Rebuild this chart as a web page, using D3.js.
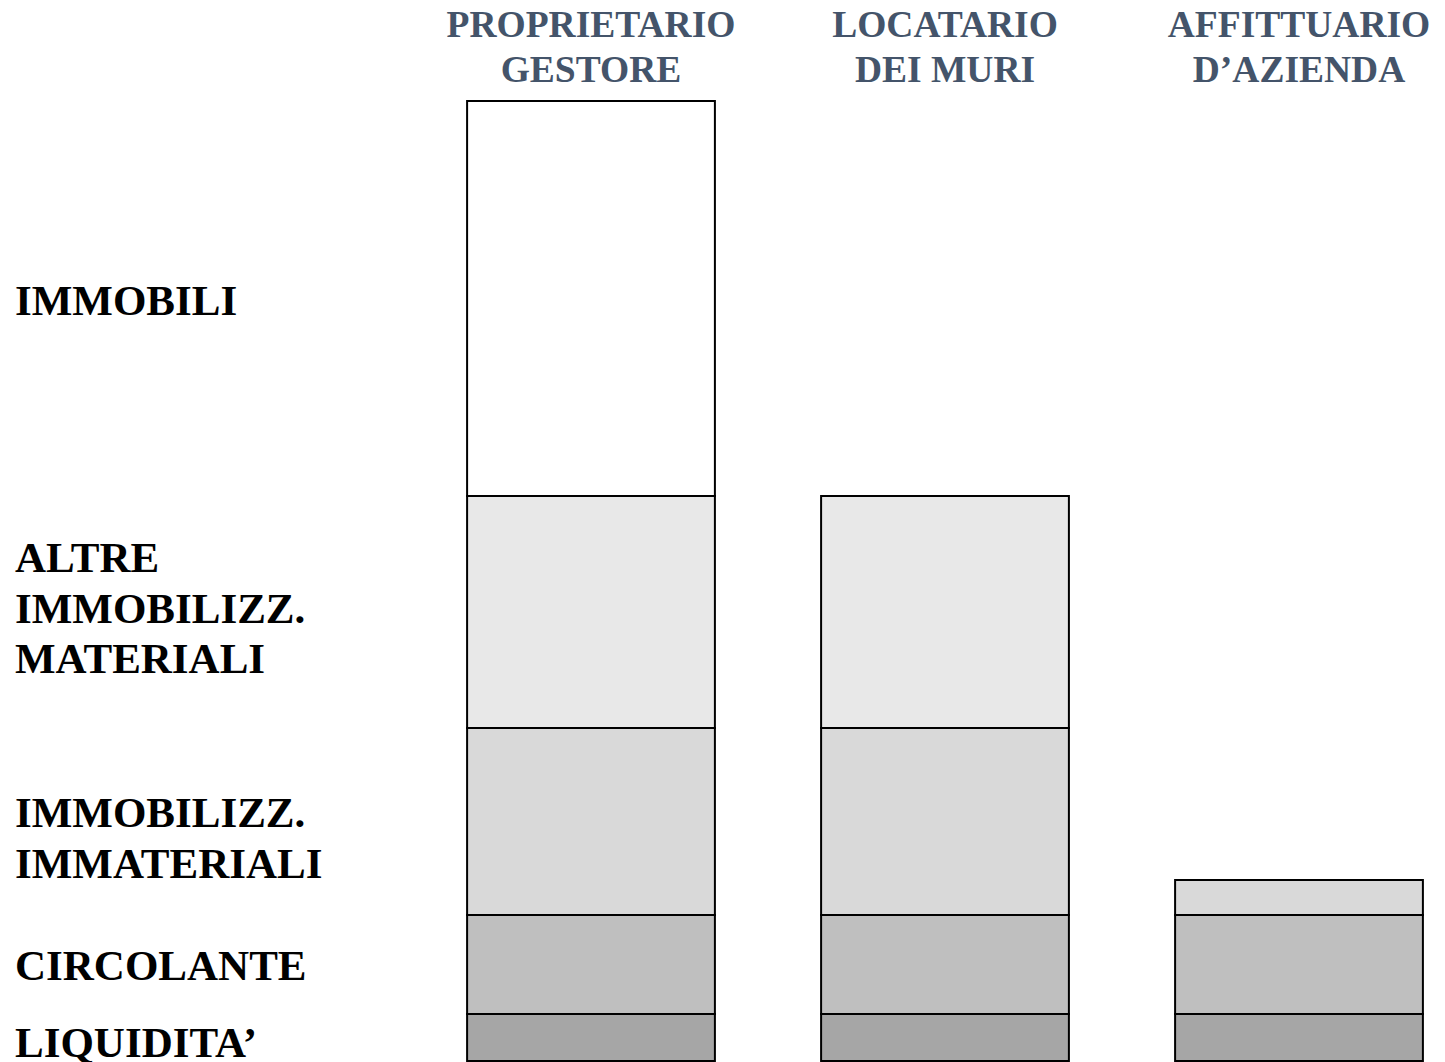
<!DOCTYPE html>
<head>
  <meta charset="utf-8">
  <title>Composizione attivo per tipologia</title>
<style>
html, body{
  width: 100%;
  height: 100%;
  margin: 0;
  padding: 0;
  background: #fff;
}

.header {
  fill: #44546a;
  font-family: 'Liberation Serif', 'Times New Roman', serif;
  font-weight: bold;
  font-size: 37.5px;
  text-anchor: middle;
}

.rowlabel {
  fill: #000;
  font-family: 'Liberation Serif', 'Times New Roman', serif;
  font-weight: bold;
  font-size: 43px;
}

.seg {
  stroke: #000;
  stroke-width: 2px;
}
</style>
</head>
<body>
<svg width="1445" height="1062"></svg>
<script src="https://d3js.org/d3.v7.min.js"></script>
<script>
var svg = d3.select("svg"),
    width = +svg.attr("width"),
    height = +svg.attr("height");

// columns (header text, split on lines)
var columns = ["PROPRIETARIO GESTORE", "LOCATARIO DEI MURI", "AFFITTUARIO D\u2019AZIENDA"];
var headerLines = [["PROPRIETARIO", "GESTORE"], ["LOCATARIO", "DEI MURI"], ["AFFITTUARIO", "D\u2019AZIENDA"]];

// stack layers, bottom to top
var layers = ["liquidita", "circolante", "immateriali", "materiali", "immobili"];
var layerLabels = [["LIQUIDITA\u2019"], ["CIRCOLANTE"], ["IMMOBILIZZ.", "IMMATERIALI"], ["ALTRE", "IMMOBILIZZ.", "MATERIALI"], ["IMMOBILI"]];

// values per column (relative size of each block)
var liquidita   = [4.7, 4.7, 4.7];
var circolante  = [9.9, 9.9, 9.9];
var immateriali = [18.7, 18.7, 3.5];
var materiali   = [23.2, 23.2, 0];
var immobili    = [39.5, 0, 0];

var colors = ["#a6a6a6", "#bfbfbf", "#d9d9d9", "#e8e8e8", "#ffffff"];
var labelBaselines = [1057, 980, 827, 572, 315]; // first-line baseline of each row label
var lineH = 50.5;

var table = columns.map(function(c, i) {
  return {col: c, liquidita: liquidita[i], circolante: circolante[i],
          immateriali: immateriali[i], materiali: materiali[i], immobili: immobili[i]};
});

var stack = d3.stack().keys(layers);
var series = stack(table);

var x = d3.scaleBand()
    .domain(columns)
    .range([414, 1476])
    .paddingInner(0.3)
    .paddingOuter(0.15);

var y = d3.scaleLinear()
    .domain([0, 96])
    .range([1061, 101]);

var color = d3.scaleOrdinal().domain(layers).range(colors);

// bars
svg.selectAll(".layer")
  .data(series)
  .enter().append("g")
    .attr("class", "layer")
    .style("fill", function(d) { return color(d.key); })
  .selectAll("rect")
  .data(function(d) { return d.filter(function(p) { return p[1] - p[0] > 0; }); })
  .enter().append("rect")
    .attr("class", "seg")
    .attr("x", function(d) { return x(d.data.col); })
    .attr("width", x.bandwidth())
    .attr("y", function(d) { return y(d[1]); })
    .attr("height", function(d) { return y(d[0]) - y(d[1]); });

// column headers
svg.selectAll(".header")
  .data(columns)
  .enter().append("text")
    .attr("class", "header")
    .attr("x", function(d) { return x(d) + x.bandwidth() / 2; })
    .attr("y", 37)
    .each(function(d, i) {
      var t = d3.select(this);
      headerLines[i].forEach(function(line, j) {
        t.append("tspan")
          .attr("x", x(d) + x.bandwidth() / 2)
          .attr("dy", j === 0 ? 0 : 45)
          .text(line);
      });
    });

// row labels on the left
svg.selectAll(".rowlabel")
  .data(layerLabels)
  .enter().append("text")
    .attr("class", "rowlabel")
    .attr("x", 15)
    .attr("y", function(d, i) { return labelBaselines[i]; })
    .each(function(d) {
      var t = d3.select(this);
      d.forEach(function(line, j) {
        t.append("tspan")
          .attr("x", 15)
          .attr("dy", j === 0 ? 0 : lineH)
          .text(line);
      });
    });
</script>
</body>
